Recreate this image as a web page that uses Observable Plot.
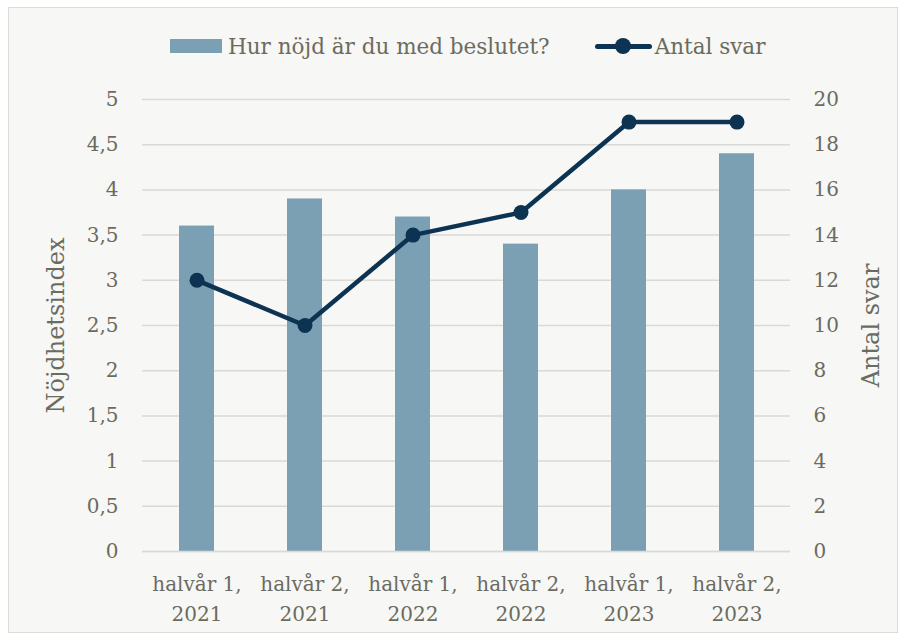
<!DOCTYPE html>
<html>
<head>
<meta charset="utf-8">
<script src="https://cdn.jsdelivr.net/npm/d3@7"></script>
<script src="https://cdn.jsdelivr.net/npm/@observablehq/plot@0.6"></script>
<style>
  html, body { margin: 0; padding: 0; background: #ffffff; }
  body { width: 906px; height: 641px; position: relative; overflow: hidden; font-family: "DejaVu Serif", serif; }
  #frame { position: absolute; left: 8px; top: 7px; width: 888px; height: 624px; background: #f7f7f5; border: 1.5px solid #dcdcd7; }
  #legend { position: absolute; left: 170px; top: 32px; height: 28px; display: flex; align-items: center; color: #6b6b5f; font-size: 21.5px; white-space: nowrap; }
  .sw-bar { width: 52px; height: 14px; background: #7ba0b4; margin-right: 6px; }
  .sw-line { position: relative; width: 57px; height: 20px; margin-left: 45px; margin-right: 3px; }
  .sw-line::before { content: ""; position: absolute; left: 0; right: 0; top: 7.5px; height: 5px; background: #0c3352; border-radius: 2.5px; }
  .sw-line::after { content: ""; position: absolute; left: 20.5px; top: 2px; width: 16px; height: 16px; border-radius: 50%; background: #0c3352; }
  #chart { position: absolute; left: 0; top: 60px; }
</style>
</head>
<body>
<div id="frame"></div>
<div id="legend">
  <div class="sw-bar"></div><span id="lg1"></span>
  <div class="sw-line"></div><span id="lg2"></span>
</div>
<div id="chart"></div>
<script>
const periods = ["halvår 1,\n2021", "halvår 2,\n2021", "halvår 1,\n2022", "halvår 2,\n2022", "halvår 1,\n2023", "halvår 2,\n2023"];
const satisfaction = [3.6, 3.9, 3.7, 3.4, 4.0, 4.4];
const responses = [12, 10, 14, 15, 19, 19];
const seriesNames = ["Hur nöjd är du med beslutet?", "Antal svar"];
const leftTicks = [0, 0.5, 1, 1.5, 2, 2.5, 3, 3.5, 4, 4.5, 5];
const rightTicks = [0, 2, 4, 6, 8, 10, 12, 14, 16, 18, 20];
const rightMax = 20;
const leftMax = 5;

document.getElementById("lg1").textContent = seriesNames[0];
document.getElementById("lg2").textContent = seriesNames[1];

const ratio = rightMax / leftMax;
const data = periods.map((p, i) => ({period: p, value: satisfaction[i], n: responses[i]}));
const textColor = "#6b6b5f";

const chart = Plot.plot({
  width: 906,
  height: 570,
  marginTop: 39,
  marginBottom: 79,
  marginLeft: 142,
  marginRight: 116,
  style: {background: "transparent", fontFamily: "DejaVu Serif, serif", fontSize: "20px", color: textColor},
  x: {domain: periods, paddingInner: 0.68, paddingOuter: 0.34, label: null},
  y: {domain: [0, leftMax], label: null},
  marks: [
    Plot.gridY(leftTicks, {stroke: "#d9d9d6", strokeOpacity: 1, strokeWidth: 1.5}),
    Plot.barY(data, {x: "period", y: "value", fill: "#7ba0b4"}),
    Plot.line(data, {x: "period", y: d => d.n / ratio, stroke: "#0c3352", strokeWidth: 4.5}),
    Plot.dot(data, {x: "period", y: d => d.n / ratio, fill: "#0c3352", r: 7.5}),
    Plot.axisY({anchor: "left", ticks: leftTicks, tickSize: 0, tickPadding: 24, tickFormat: d => String(d).replace(".", ","), fill: textColor}),
    Plot.axisY({anchor: "left", ticks: [], label: "Nöjdhetsindex", labelAnchor: "center", labelOffset: 96, labelArrow: false, fill: textColor, fontSize: 24}),
    Plot.axisY({anchor: "right", ticks: rightTicks.map(t => t / ratio), tickSize: 0, tickPadding: 23, tickFormat: d => String(Math.round(d * ratio)), fill: textColor}),
    Plot.axisY({anchor: "right", ticks: [], label: "Antal svar", labelAnchor: "center", labelOffset: 88, labelArrow: false, fill: textColor, fontSize: 24}),
    Plot.axisX({tickSize: 0, tickPadding: 18, fill: textColor, lineHeight: 1.5, label: null}),
    Plot.ruleY([0], {stroke: "#d9d9d6", strokeWidth: 1.5})
  ]
});
document.getElementById("chart").appendChild(chart);
</script>
</body>
</html>
